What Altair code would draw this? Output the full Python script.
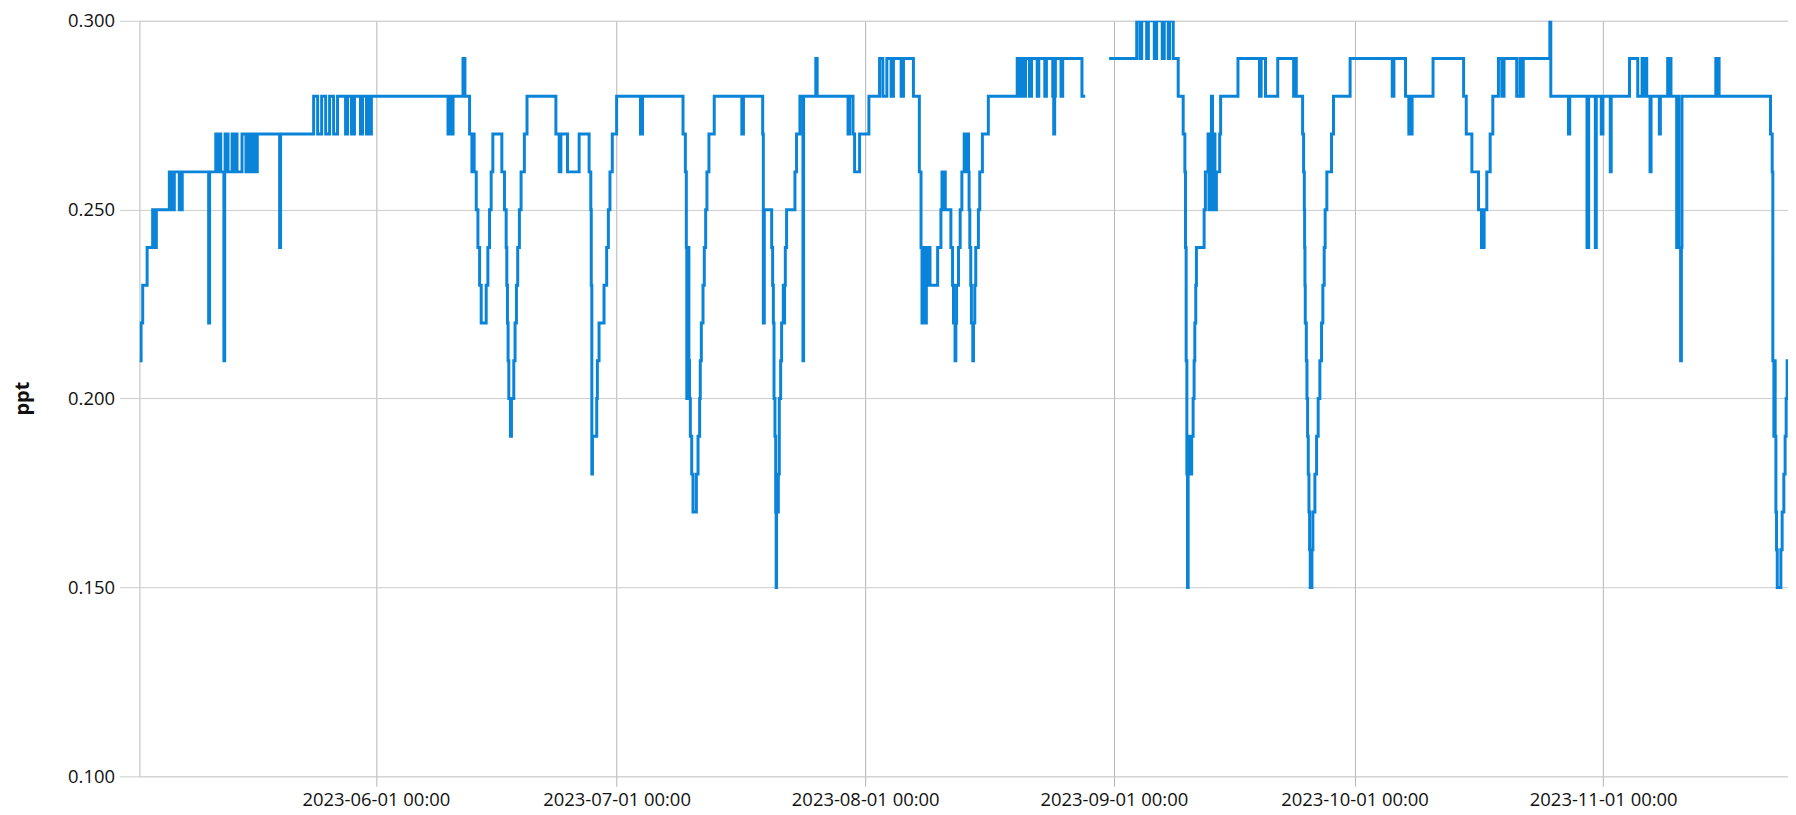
import altair as alt
import pandas as pd

# ---- data: change points of a stepwise series, time in days since 2023-05-01 ----
ORIGIN = "2023-05-01"

days = [
    1.52, 1.73, 1.93, 2.48, 3.17, 3.3, 3.45, 3.55, 3.63, 5.25, 5.4, 5.55, 5.7, 5.87,
    6.49, 6.86, 10.15, 10.27, 11.04, 11.15, 11.35, 11.66, 12.05, 12.15, 12.2, 12.57,
    13.07, 13.2, 13.35, 13.69, 14.31, 14.8, 15.05, 15.2, 15.35, 15.6, 15.75, 15.95,
    16.21, 19.0, 19.12, 23.24, 23.74, 24.24, 24.74, 25.23, 25.73, 26.22, 27.22, 27.47,
    27.96, 28.33, 29.08, 29.33, 29.83, 30.0, 30.2, 30.44, 39.99, 40.2, 40.35, 40.62,
    41.86, 42.1, 42.68, 42.97, 43.1, 43.25, 43.51, 43.72, 43.93, 44.13, 44.75, 44.96,
    45.17, 45.37, 45.58, 46.7, 47.03, 47.24, 47.32, 47.4, 47.48, 47.57, 47.77, 47.9,
    48.19, 48.35, 48.52, 48.68, 48.89, 49.1, 49.51, 49.84, 53.44, 53.85, 54.06, 54.89,
    56.34, 57.58, 57.79, 57.85, 57.92, 58.0, 58.53, 58.61, 58.82, 59.44, 59.77, 59.98,
    60.18, 60.47, 61.01, 63.99, 64.24, 69.29, 69.58, 69.7, 69.76, 69.82, 69.88, 69.95,
    70.02, 70.1, 70.2, 70.37, 70.53, 70.95, 71.16, 71.36, 71.44, 71.57, 71.78, 71.94,
    72.11, 72.27, 72.52, 73.18, 76.62, 76.82, 79.22, 79.3, 79.42, 80.34, 80.46, 80.55,
    80.63, 80.75, 80.84, 80.9, 80.95, 81.02, 81.08, 81.17, 81.29, 81.46, 81.58, 81.79,
    81.87, 81.95, 82.04, 82.2, 83.24, 83.44, 83.86, 84.24, 84.32, 85.84, 86.01, 89.86,
    90.06, 90.48, 90.68, 91.3, 92.46, 93.79, 94.2, 94.7, 95.23, 95.52, 96.48, 96.77,
    98.01, 98.75, 98.96, 99.08, 99.2, 99.3, 99.42, 99.52, 99.62, 99.83, 99.95, 100.08,
    101.03, 101.44, 101.57, 101.7, 101.8, 101.98, 102.68, 102.89, 103.01, 103.2, 103.3,
    103.39, 103.63, 103.84, 104.05, 104.34, 104.5, 104.6, 104.88, 104.95, 105.04,
    105.16, 105.24, 105.41, 105.5, 105.66, 105.78, 106.11, 106.28, 106.61, 107.35,
    110.95, 111.16, 111.28, 111.49, 111.66, 111.82, 111.99, 112.48, 112.73, 113.44,
    113.64, 114.39, 114.59, 115.38, 115.5, 115.62, 115.71, 116.41, 116.62, 119.02,
    119.43, 119.5,
    122.41, 125.85, 126.26, 126.47, 127.09, 127.3, 128.04, 128.33, 129.03, 129.28,
    129.78, 129.94, 130.4, 131.02, 131.64, 131.85, 131.93, 132.01, 132.1, 132.18,
    132.26, 132.35, 132.43, 132.52, 132.6, 132.7, 132.88, 133.0, 133.09, 133.21,
    133.29, 134.25, 134.41, 134.74, 134.85, 134.95, 135.05, 135.16, 135.3, 135.49,
    135.6, 135.78, 136.19, 136.31, 138.47, 141.15, 141.36, 141.9, 143.43, 145.41,
    145.5, 145.58, 145.66, 145.74, 146.53, 146.65, 146.74, 146.78, 146.82, 146.86,
    146.99, 147.07, 147.15, 147.23, 147.32, 147.4, 147.48, 147.69, 147.81, 148.06,
    148.27, 148.47, 148.68, 148.89, 149.05, 149.22, 149.34, 149.55, 150.13, 150.38,
    152.45, 157.7, 157.91, 159.36, 159.77, 160.0, 160.05, 160.18, 162.79, 166.6,
    166.93, 167.63, 168.46, 168.83, 169.16, 169.49, 169.91, 170.24, 170.94, 171.36,
    171.64, 173.22, 173.63, 173.9, 174.04, 177.35, 177.47, 179.67, 179.83, 181.98,
    182.19, 183.02, 183.14, 183.76, 183.97, 184.88, 185.0, 187.28, 188.31, 188.85,
    189.0, 189.15, 189.43, 189.84, 189.97, 191.0, 191.13, 192.04, 192.2, 192.3,
    192.45, 193.16, 193.32, 193.42, 193.65, 193.75, 193.82, 198.04, 198.2, 198.3,
    198.45, 204.86, 205.07, 205.15, 205.28, 205.36, 205.44, 205.53, 205.61, 205.7,
    206.15, 206.31, 206.52, 206.68, 206.81, 206.93, 207.5,
]

ppt = [
    0.21, 0.22, 0.23, 0.24, 0.25, 0.24, 0.25, 0.24, 0.25, 0.26, 0.25, 0.26, 0.25, 0.26,
    0.25, 0.26, 0.22, 0.26, 0.27, 0.26, 0.27, 0.26, 0.21, 0.26, 0.27, 0.26,
    0.27, 0.26, 0.27, 0.26, 0.27, 0.26, 0.27, 0.26, 0.27, 0.26, 0.27, 0.26,
    0.27, 0.24, 0.27, 0.28, 0.27, 0.28, 0.27, 0.28, 0.27, 0.28, 0.27, 0.28,
    0.27, 0.28, 0.27, 0.28, 0.27, 0.28, 0.27, 0.28, 0.27, 0.28, 0.27, 0.28,
    0.29, 0.28, 0.27, 0.26, 0.27, 0.26, 0.25, 0.24, 0.23, 0.22, 0.23, 0.24,
    0.25, 0.26, 0.27, 0.26, 0.25, 0.24, 0.23, 0.22, 0.21, 0.20, 0.19, 0.20,
    0.21, 0.22, 0.23, 0.24, 0.25, 0.26, 0.27, 0.28, 0.27, 0.26, 0.27, 0.26,
    0.27, 0.26, 0.25, 0.23, 0.18, 0.19, 0.20, 0.21, 0.22, 0.23, 0.24, 0.25,
    0.26, 0.27, 0.28, 0.27, 0.28, 0.27, 0.26, 0.24, 0.20, 0.24, 0.20, 0.24,
    0.21, 0.20, 0.19, 0.18, 0.17, 0.18, 0.19, 0.20, 0.21, 0.22, 0.23, 0.24,
    0.25, 0.26, 0.27, 0.28, 0.27, 0.28, 0.27, 0.22, 0.25, 0.24, 0.23, 0.22,
    0.20, 0.19, 0.17, 0.15, 0.17, 0.18, 0.17, 0.18, 0.20, 0.21, 0.22, 0.23,
    0.22, 0.23, 0.24, 0.25, 0.26, 0.27, 0.28, 0.21, 0.28, 0.29, 0.28, 0.27,
    0.28, 0.27, 0.26, 0.27, 0.28, 0.29, 0.28, 0.29, 0.28, 0.29, 0.28, 0.29,
    0.28, 0.26, 0.24, 0.22, 0.24, 0.22, 0.24, 0.22, 0.24, 0.23, 0.24, 0.23,
    0.24, 0.25, 0.26, 0.25, 0.26, 0.25, 0.24, 0.23, 0.22, 0.21, 0.22,
    0.23, 0.24, 0.25, 0.26, 0.27, 0.26, 0.27, 0.26, 0.25, 0.24,
    0.23, 0.22, 0.21, 0.22, 0.23, 0.24, 0.25, 0.26, 0.27, 0.28,
    0.29, 0.28, 0.29, 0.28, 0.29, 0.28, 0.29, 0.28, 0.29, 0.28,
    0.29, 0.28, 0.29, 0.28, 0.27, 0.28, 0.29, 0.28, 0.29, 0.28,
    0.28, None,
    0.29, 0.30, 0.29, 0.30, 0.29, 0.30, 0.29, 0.30, 0.29, 0.30,
    0.29, 0.30, 0.29, 0.28, 0.27, 0.26, 0.24, 0.21, 0.18, 0.15,
    0.18, 0.19, 0.18, 0.19, 0.18, 0.19, 0.20, 0.21, 0.22, 0.23,
    0.24, 0.25, 0.26, 0.27, 0.25, 0.27, 0.25, 0.28, 0.25, 0.27,
    0.25, 0.26, 0.27, 0.28, 0.29, 0.28, 0.29, 0.28, 0.29, 0.28,
    0.29, 0.28, 0.29, 0.28, 0.27, 0.26, 0.25, 0.24, 0.23, 0.22,
    0.21, 0.20, 0.19, 0.18, 0.17, 0.16, 0.15, 0.16, 0.17, 0.18,
    0.19, 0.20, 0.21, 0.22, 0.23, 0.24, 0.25, 0.26, 0.27, 0.28,
    0.29, 0.28, 0.29, 0.28, 0.27, 0.28, 0.27, 0.28, 0.29, 0.28,
    0.27, 0.26, 0.25, 0.24, 0.25, 0.26, 0.27, 0.28, 0.29, 0.28,
    0.29, 0.28, 0.29, 0.28, 0.29, 0.30, 0.28, 0.27, 0.28, 0.24,
    0.28, 0.24, 0.28, 0.27, 0.28, 0.26, 0.28, 0.29, 0.28, 0.29,
    0.28, 0.29, 0.28, 0.26, 0.28, 0.27, 0.28, 0.29, 0.28, 0.29,
    0.28, 0.24, 0.28, 0.24, 0.21, 0.24, 0.28, 0.29, 0.28, 0.29,
    0.28, 0.27, 0.26, 0.21, 0.19, 0.21, 0.19, 0.17, 0.16, 0.15,
    0.16, 0.17, 0.18, 0.19, 0.20, 0.21, 0.21,
]

month_ticks = ["2023-06-01", "2023-07-01", "2023-08-01", "2023-09-01", "2023-10-01", "2023-11-01"]
y_ticks = [0.10, 0.15, 0.20, 0.25, 0.30]
x_domain_days = [1.52, 207.04]

origin = pd.Timestamp(ORIGIN)
df = pd.DataFrame({
    "t": [origin + pd.to_timedelta(d, unit="D") for d in days],
    "ppt": ppt,
})
df["t"] = df["t"].dt.strftime("%Y-%m-%dT%H:%M:%S")


def to_dt(ts):
    ts = pd.Timestamp(ts)
    return alt.DateTime(year=ts.year, month=ts.month, date=ts.day,
                        hours=ts.hour, minutes=ts.minute)


x_dom = [to_dt(origin + pd.to_timedelta(d, unit="D")) for d in x_domain_days]
x_vals = [to_dt(m) for m in month_ticks]

FONT = "Open Sans"

chart = alt.Chart(df).mark_line(
    interpolate="step-after", color="#0a84d8", strokeWidth=3, clip=True
).encode(
    x=alt.X("t:T",
            scale=alt.Scale(domain=x_dom, nice=False),
            axis=alt.Axis(values=x_vals, format="%Y-%m-%d %H:%M", title=None,
                          grid=True, gridColor="#b4b4b4", gridWidth=1,
                          ticks=True, tickSize=10, tickColor="#b4b4b4",
                          domain=False, labelPadding=4, labelAngle=0,
                          labelFont=FONT, labelFontSize=18.5, labelColor="#111111",
                          labelFlush=False, labelOverlap=False)),
    y=alt.Y("ppt:Q",
            scale=alt.Scale(domain=[0.10, 0.30], nice=False, zero=False),
            axis=alt.Axis(values=y_ticks, format=".3f", title="ppt",
                          grid=True, gridColor="#cccccc", gridWidth=1,
                          ticks=True, tickSize=20, tickColor="#cccccc",
                          domain=True, domainColor="#cccccc",
                          labelPadding=5, labelFont=FONT, labelFontSize=18.5,
                          labelColor="#111111",
                          titleFont=FONT, titleFontSize=20, titleFontWeight="bold",
                          titleColor="#111111", titleAngle=-90, titleX=-117, titleY=379,
                          titleAlign="center", titleBaseline="middle")),
).properties(
    width=1656, height=759,
    autosize=alt.AutoSizeParams(type="none"),
    padding={"left": 132, "top": 11, "right": 0, "bottom": 37},
).configure_view(stroke=None).configure(background="white")

chart.save("out.html", embed_options={"renderer": "svg", "actions": False})
